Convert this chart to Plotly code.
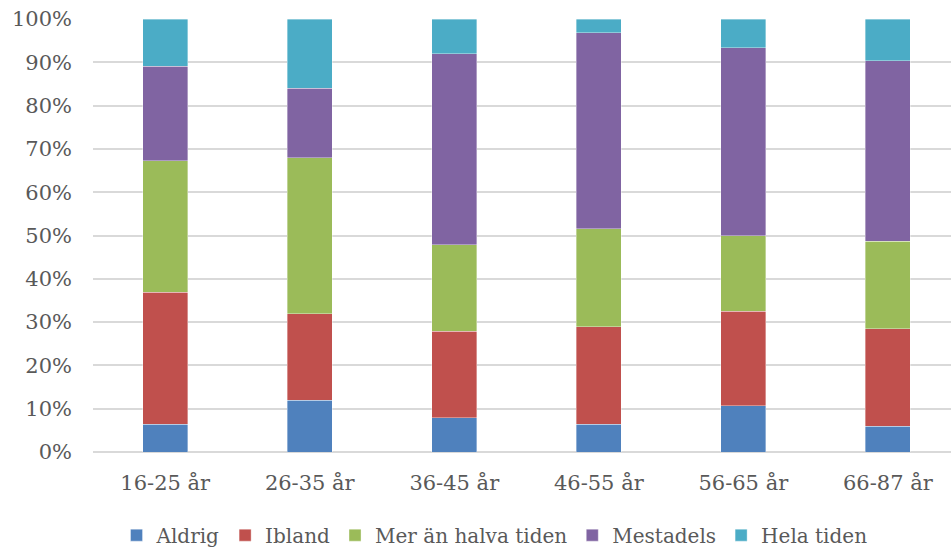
import plotly.graph_objects as go

# Age groups and answer shares (fraction of respondents)
age_groups = ["16-25 år", "26-35 år", "36-45 år", "46-55 år", "56-65 år", "66-87 år"]

aldrig = [0.064, 0.119, 0.079, 0.064, 0.107, 0.059]
ibland = [0.305, 0.200, 0.200, 0.225, 0.218, 0.226]
mer_an_halva = [0.304, 0.360, 0.200, 0.227, 0.175, 0.202]
mestadels = [0.218, 0.161, 0.441, 0.452, 0.434, 0.417]
hela_tiden = [0.109, 0.160, 0.080, 0.032, 0.066, 0.096]

series_names = ["Aldrig", "Ibland", "Mer än halva tiden", "Mestadels", "Hela tiden"]
series_values = [aldrig, ibland, mer_an_halva, mestadels, hela_tiden]
series_colors = ["#4F81BD", "#C0504D", "#9BBB59", "#8064A2", "#4BACC6"]

font_family = "DejaVu Serif, Liberation Serif, serif"
text_color = "#595959"

fig = go.Figure()
for name, vals, col in zip(series_names, series_values, series_colors):
    fig.add_trace(go.Bar(
        x=age_groups, y=vals, name=name,
        marker=dict(color=col, line=dict(color="rgba(255,255,255,0.6)", width=0.6)),
        width=0.31,
    ))

fig.update_layout(
    barmode="stack",
    width=951, height=550,
    margin=dict(l=93, r=0, t=19, b=98, autoexpand=False),
    plot_bgcolor="white", paper_bgcolor="white",
    font=dict(family=font_family, size=21, color=text_color),
    showlegend=True,
    legend=dict(
        orientation="h", xref="container", yref="container",
        x=0.52, xanchor="center", y=0.027, yanchor="middle",
        font=dict(size=20, color=text_color),
        itemwidth=30, traceorder="normal",
    ),
)

fig.update_xaxes(
    range=[-0.5, 5.437], showgrid=False, showline=False, zeroline=False,
    tickfont=dict(size=21, color=text_color), ticks="", ticklabelstandoff=16,
)
fig.update_yaxes(
    range=[0, 1], tickformat=".0%", dtick=0.1,
    showgrid=True, gridcolor="#D9D9D9", gridwidth=1.5,
    zeroline=True, zerolinecolor="#D9D9D9", zerolinewidth=1.5,
    tickfont=dict(size=21, color=text_color), ticklabelstandoff=20,
)

# page body has a default 8px margin; drop it so the figure fills the window
fig.write_html("out.html", config={"displayModeBar": False},
               post_script="document.body.style.margin='0';")
